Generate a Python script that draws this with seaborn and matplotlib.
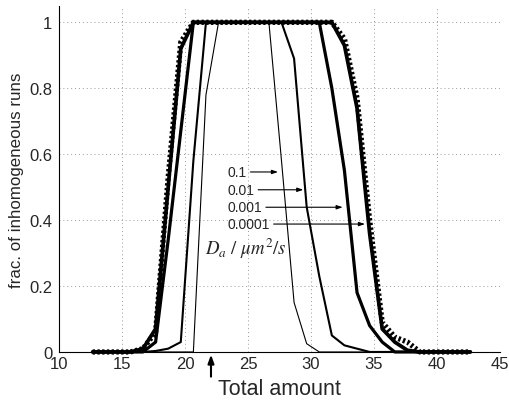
import matplotlib
matplotlib.use("Agg")
import matplotlib.pyplot as plt
import seaborn as sns
import pandas as pd

# ---- data ----
total_amount = [12.66, 13.66, 14.66, 15.66, 16.66, 17.66, 18.66, 19.66, 20.66, 21.66,
                22.66, 23.66, 24.66, 25.66, 26.66, 27.66, 28.66, 29.66, 30.66, 31.66,
                32.66, 33.66, 34.66, 35.66, 36.66, 37.66, 38.66, 39.66, 40.66, 41.66, 42.66]

frac_d_1e1 = [0, 0, 0, 0, 0, 0, 0, 0, 0, 0.78,
              1, 1, 1, 1, 1, 0.58, 0.15, 0.025, 0, 0,
              0, 0, 0, 0, 0, 0, 0, 0, 0, 0, 0]
frac_d_1e2 = [0, 0, 0, 0, 0, 0.003, 0.01, 0.03, 0.58, 1,
              1, 1, 1, 1, 1, 1, 0.89, 0.44, 0.23, 0.05,
              0.02, 0.01, 0, 0, 0, 0, 0, 0, 0, 0, 0]
frac_d_1e3 = [0, 0, 0, 0, 0, 0.03, 0.34, 0.67, 1, 1,
              1, 1, 1, 1, 1, 1, 1, 1, 1, 0.80,
              0.55, 0.18, 0.08, 0.03, 0, 0, 0, 0, 0, 0, 0]
frac_d_1e4 = [0, 0, 0, 0, 0.01, 0.07, 0.50, 0.92, 1, 1,
              1, 1, 1, 1, 1, 1, 1, 1, 1, 1,
              0.93, 0.74, 0.36, 0.07, 0.03, 0.005, 0, 0, 0, 0, 0]
frac_limit = [0, 0, 0, 0, 0.01, 0.06, 0.53, 0.94, 1, 1,
              1, 1, 1, 1, 1, 1, 1, 1, 1, 1,
              0.95, 0.77, 0.40, 0.09, 0.045, 0.03, 0, 0, 0, 0, 0]

series_labels = ["0.1", "0.01", "0.001", "0.0001"]
arrow_tips_x = [27.38, 29.39, 32.52, 34.29]
arrow_y = [0.546, 0.492, 0.439, 0.388]
label_x = 23.41

x_ticks = [10, 15, 20, 25, 30, 35, 40, 45]
y_ticks = [0, 0.2, 0.4, 0.6, 0.8, 1]
y_ticklabels = ["0", "0.2", "0.4", "0.6", "0.8", "1"]

# ---- plot ----
sns.set_style("white")
plt.rcParams["font.family"] = ["Liberation Sans", "DejaVu Sans"]
plt.rcParams["mathtext.fontset"] = "stix"

fig = plt.figure(figsize=(5.1, 4.02), dpi=100)
ax = fig.add_axes([0.116, 0.122, 0.864, 0.861])

styles = [
    (frac_d_1e1, 0.8),
    (frac_d_1e2, 1.5),
    (frac_d_1e3, 2.3),
    (frac_d_1e4, 2.7),
]
for ys, lw in styles:
    df = pd.DataFrame({"x": total_amount, "y": ys})
    sns.lineplot(data=df, x="x", y="y", ax=ax, color="black", linewidth=lw,
                 estimator=None, sort=False, clip_on=False)

df = pd.DataFrame({"x": total_amount, "y": frac_limit})
sns.lineplot(data=df, x="x", y="y", ax=ax, color="black", linewidth=3.8,
             estimator=None, sort=False, clip_on=False)
ax.lines[-1].set_dashes((0.45, 0.45))

ax.set_xlim(10, 45)
ax.set_ylim(0, 1.05)
ax.set_xticks(x_ticks)
ax.set_yticks(y_ticks)
ax.set_yticklabels(y_ticklabels)
ax.tick_params(direction="in", length=4, labelsize=12, color="black")
ax.tick_params(axis="y", pad=5)
ax.tick_params(axis="x", pad=3)
ax.grid(True, linestyle=(0, (1, 3)), color="#999999", linewidth=0.7)
for s in ["top", "right"]:
    ax.spines[s].set_visible(False)
for s in ["left", "bottom"]:
    ax.spines[s].set_color("black")
    ax.spines[s].set_linewidth(0.8)

ax.set_xlabel("Total amount", fontsize=15.5, labelpad=5)
ax.set_ylabel("frac. of inhomogeneous runs", fontsize=12.2, labelpad=4)

for lab, tx, ty in zip(series_labels, arrow_tips_x, arrow_y):
    ax.annotate(lab, xy=(tx, ty), xytext=(label_x, ty), fontsize=10,
                va="center", ha="left",
                arrowprops=dict(arrowstyle="-|>,head_length=0.35,head_width=0.12",
                                color="black", lw=0.8, shrinkA=0, shrinkB=0,
                                relpos=(1.0, 0.5)))

ax.text(21.6, 0.317, r"$D_a\ /\ \mu m^2/s$", fontsize=13.5, va="center", ha="left")

ax.annotate("", xy=(22.06, -0.008), xytext=(22.06, -0.075), xycoords="data",
            annotation_clip=False,
            arrowprops=dict(arrowstyle="-|>,head_length=0.5,head_width=0.18",
                            color="black", lw=1.5, shrinkA=0, shrinkB=0))

if ax.get_legend() is not None:
    ax.get_legend().remove()

fig.savefig("out.png", dpi=100)
